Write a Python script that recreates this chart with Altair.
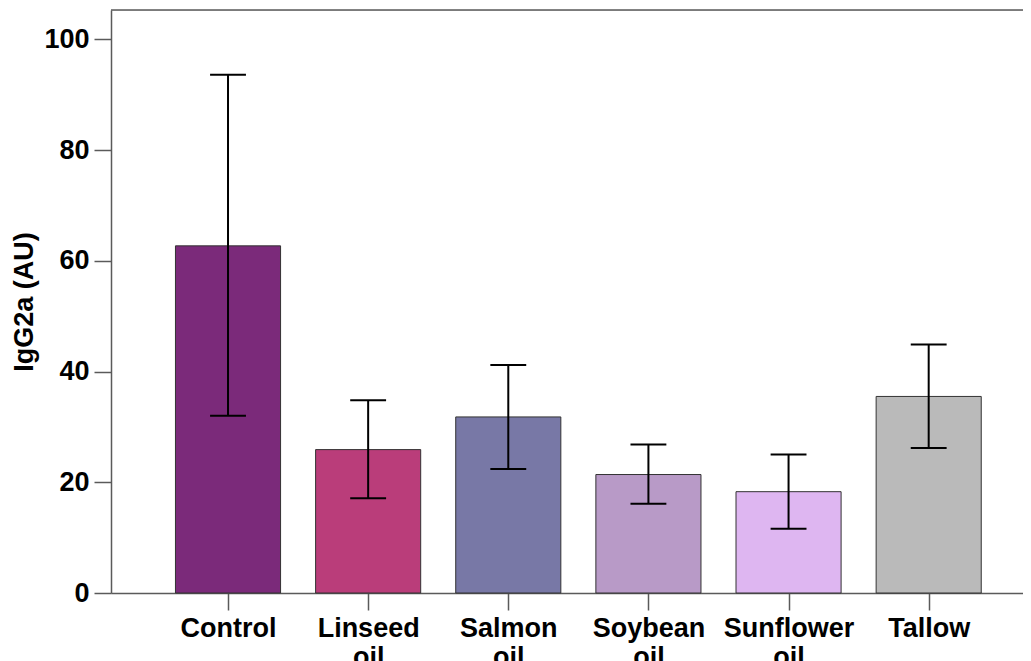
import altair as alt
import pandas as pd

categories = ["Control", "Linseed oil", "Salmon oil", "Soybean oil", "Sunflower oil", "Tallow"]
means = [62.7, 25.9, 31.8, 21.4, 18.3, 35.5]
lower = [32.0, 17.1, 22.4, 16.1, 11.6, 26.2]
upper = [93.6, 34.8, 41.2, 26.8, 25.0, 44.9]
colors = ["#7B2A7A", "#BA3D7A", "#7878A6", "#B89AC7", "#DEB6F1", "#BABABA"]
y_ticks = [0, 20, 40, 60, 80, 100]

df = pd.DataFrame({
    "pos": list(range(len(categories))),
    "cat": categories,
    "mean": means,
    "lo": lower,
    "hi": upper,
    "color": colors,
})

FONT = "Liberation Sans"
AXC = "#5a5a5a"
XMIN, XMAX = -0.835, 5.673
YMAX = 105.3

label_list = "[" + ",".join("'" + c + "'" for c in categories) + "]"

xscale = alt.Scale(domain=[XMIN, XMAX], nice=False, zero=False)
yscale = alt.Scale(domain=[0, YMAX], nice=False)

xaxis = alt.Axis(
    values=list(range(len(categories))),
    labelExpr="split(" + label_list + "[datum.value], ' ')",
    title=None, grid=False, tickSize=17, tickColor=AXC, tickWidth=1.5,
    domainColor=AXC, domainWidth=1.5,
    labelFont=FONT, labelFontSize=27, labelFontWeight="bold", labelColor="black",
    labelPadding=5, labelLineHeight=29, labelBaseline="top",
)
yaxis = alt.Axis(
    values=y_ticks, title="IgG2a (AU)", grid=False, tickSize=17, tickColor=AXC, tickWidth=1.5,
    domainColor=AXC, domainWidth=1.5,
    labelFont=FONT, labelFontSize=27, labelFontWeight="bold", labelColor="black",
    labelPadding=5,
    titleFont=FONT, titleFontSize=27, titleFontWeight="bold", titleColor="black",
    titleX=-87, titleBaseline="middle", titleAngle=270,
)

base = alt.Chart(df).transform_calculate(
    left="datum.pos - 0.375",
    right="datum.pos + 0.375",
    capl="datum.pos - 0.128",
    capr="datum.pos + 0.128",
)

bars = base.mark_bar(stroke="#333333", strokeWidth=1).encode(
    x=alt.X("left:Q", scale=xscale, axis=xaxis),
    x2="right:Q",
    y=alt.Y("mean:Q", scale=yscale, axis=yaxis),
    y2=alt.datum(0),
    color=alt.Color("color:N", scale=None),
)

err = base.mark_rule(color="black", strokeWidth=2).encode(
    x=alt.X("pos:Q", scale=xscale),
    y=alt.Y("lo:Q", scale=yscale),
    y2="hi:Q",
)

cap_hi = base.mark_rule(color="black", strokeWidth=2).encode(
    x=alt.X("capl:Q", scale=xscale), x2="capr:Q",
    y=alt.Y("hi:Q", scale=yscale),
)
cap_lo = base.mark_rule(color="black", strokeWidth=2).encode(
    x=alt.X("capl:Q", scale=xscale), x2="capr:Q",
    y=alt.Y("lo:Q", scale=yscale),
)

frame_top = alt.Chart(pd.DataFrame({"ytop": [YMAX]})).mark_rule(color=AXC, strokeWidth=1.5).encode(
    y=alt.Y("ytop:Q", scale=yscale),
    x=alt.value(0), x2=alt.value(912),
)

chart = alt.layer(bars, err, cap_hi, cap_lo, frame_top).properties(
    width=912, height=583,
    autosize=alt.AutoSizeParams(type="none"),
    padding={"left": 103, "top": 2, "right": 0, "bottom": 68},
).configure_view(stroke=None).configure(background="white")

chart.save("out.html", embed_options={"renderer": "svg", "actions": False})
